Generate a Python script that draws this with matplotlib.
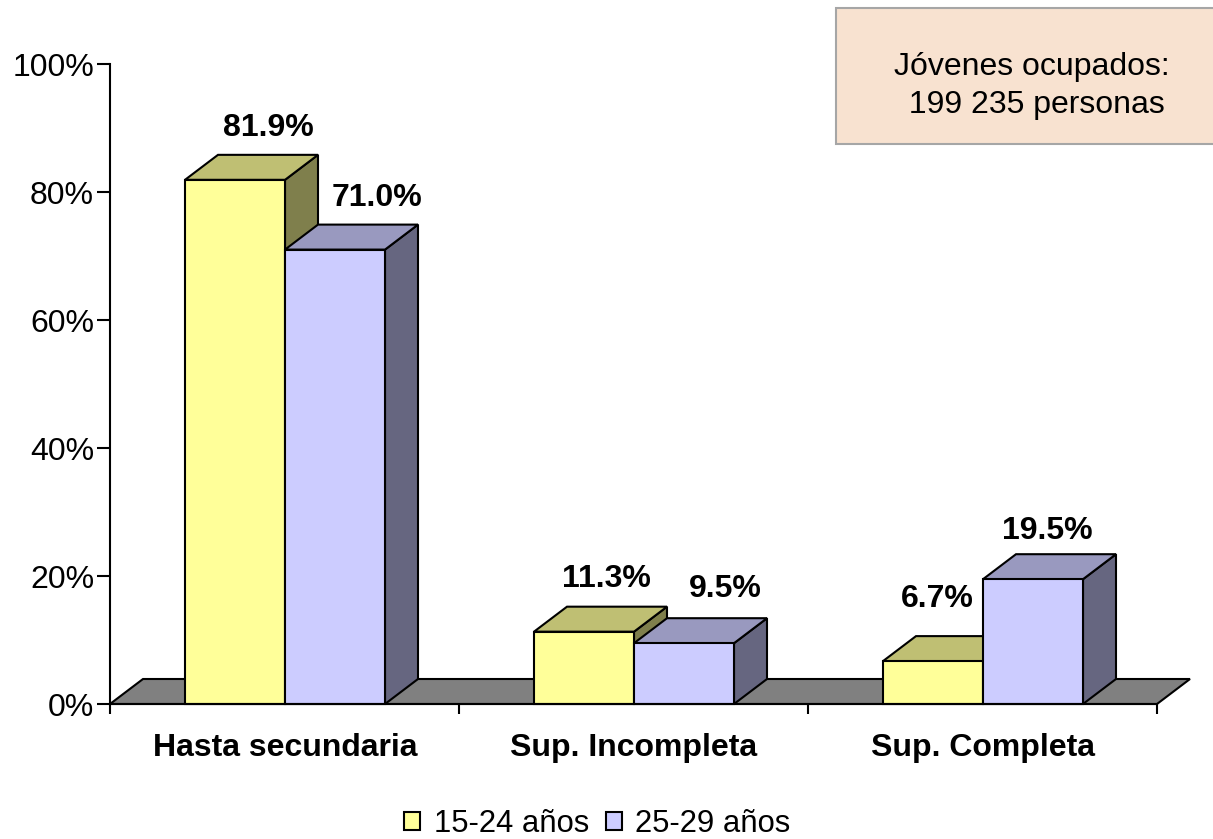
#!/usr/bin/env python
"""
Bar chart with fake 3D depth: education level of employed young people
"""

import matplotlib
matplotlib.use('Agg')
import matplotlib.pyplot as plt
from matplotlib.patches import Polygon, Patch, Rectangle

plt.rcParams['font.family'] = ['Liberation Sans', 'DejaVu Sans']

categories = ['Hasta secundaria', 'Sup. Incompleta', 'Sup. Completa']
series_names = ['15-24 años', '25-29 años']
vals_young = [81.9, 11.3, 6.7]
vals_old = [71.0, 9.5, 19.5]
y_ticks = [0, 20, 40, 60, 80, 100]
box_text = 'Jóvenes ocupados:\n 199 235 personas'

# label offsets from the bar's front top centre, in pixels
off_young = [(33, 52), (22, 53), (4, 62)]
off_old = [(42, 52), (41, 54), (14, 48)]

W, H = 1213, 839
left, right, top, bottom = 110, 1157, 64, 704
bar_w = 100 / 349
gap = 75 / 349
dx = 33 / 349
dy = 25 / 6.4
LW = 1.5
FS = 23

colors = [('#FFFF99', '#BFBF73', '#7F7F4C'), ('#CCCCFF', '#9999BF', '#666680')]


def draw_bar(ax, x, h, cols):
    ax.add_patch(Polygon([(x + bar_w, 0), (x + bar_w + dx, dy), (x + bar_w + dx, h + dy), (x + bar_w, h)],
                         facecolor=cols[2], edgecolor='black', lw=LW, clip_on=False, zorder=3))
    ax.add_patch(Polygon([(x, h), (x + dx, h + dy), (x + bar_w + dx, h + dy), (x + bar_w, h)],
                         facecolor=cols[1], edgecolor='black', lw=LW, clip_on=False, zorder=3))
    ax.add_patch(Rectangle((x, 0), bar_w, h, facecolor=cols[0], edgecolor='black', lw=LW,
                           clip_on=False, zorder=3))


fig = plt.figure(figsize=(W / 100, H / 100), dpi=100)
ax = fig.add_axes([left / W, 1 - bottom / H, (right - left) / W, (bottom - top) / H])
ax.set_xlim(0, 3)
ax.set_ylim(0, 100)

# floor
ax.add_patch(Polygon([(0, 0), (dx, dy), (3 + dx, dy), (3, 0)], facecolor='#808080', edgecolor='black',
                     lw=LW, clip_on=False, zorder=1))

for i in range(len(categories)):
    x0 = i + gap
    draw_bar(ax, x0, vals_young[i], colors[0])
    draw_bar(ax, x0 + bar_w, vals_old[i], colors[1])
    ax.annotate('{:.1f}%'.format(vals_young[i]), (x0 + bar_w / 2, vals_young[i]),
                xytext=(off_young[i][0] * 0.72, off_young[i][1] * 0.72), textcoords='offset points',
                ha='center', va='center', fontsize=FS, fontweight='bold', zorder=5)
    ax.annotate('{:.1f}%'.format(vals_old[i]), (x0 + 1.5 * bar_w, vals_old[i]),
                xytext=(off_old[i][0] * 0.72, off_old[i][1] * 0.72), textcoords='offset points',
                ha='center', va='center', fontsize=FS, fontweight='bold', zorder=5)

for s in ['top', 'right']:
    ax.spines[s].set_visible(False)
for s in ['left', 'bottom']:
    ax.spines[s].set_linewidth(LW)
    ax.spines[s].set_zorder(4)

ax.set_yticks(y_ticks)
ax.set_yticklabels(['{}%'.format(v) for v in y_ticks], fontsize=FS)
ax.tick_params(axis='y', length=9.5, width=LW, pad=2)
ax.set_xticks(range(len(categories) + 1))
ax.set_xticklabels([])
ax.tick_params(axis='x', which='major', length=7.5, width=LW)
ax.set_xticks([i + gap + bar_w for i in range(len(categories))], minor=True)
ax.set_xticklabels(categories, minor=True, fontsize=FS, fontweight='bold')
ax.tick_params(axis='x', which='minor', length=0, pad=21.2)

# note box
fig.add_artist(Rectangle((836 / W, 1 - 144 / H), 380 / W, 136 / H, transform=fig.transFigure,
                         facecolor='#F8E2D0', edgecolor='#A6A6A6', lw=LW))
fig.text(1032 / W, 1 - 86 / H, box_text, ha='center', va='center', fontsize=FS, linespacing=1.38)

handles = [Patch(facecolor=colors[k][0], edgecolor='black', lw=LW, label=series_names[k]) for k in range(2)]
fig.legend(handles=handles, loc='center', bbox_to_anchor=(597.5 / W, 1 - 824 / H), ncol=2, frameon=False,
           fontsize=22.3, handlelength=0.5, handleheight=0.5, handletextpad=0.45, columnspacing=0.55,
           borderpad=0, borderaxespad=0)

plt.savefig('out.png', dpi=100)
plt.close()
